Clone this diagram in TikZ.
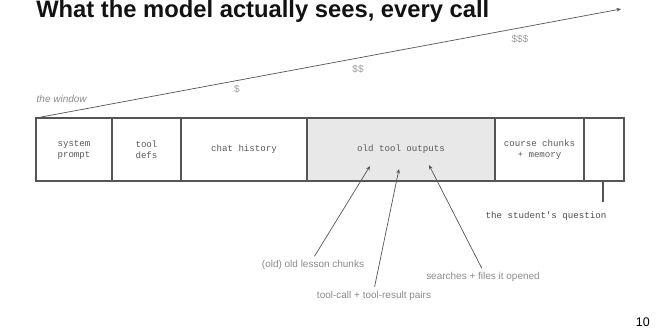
\documentclass[tikz,border=0pt]{standalone}
\usepackage{fontspec}
\setmainfont{Liberation Sans}
\setmonofont{Liberation Mono}
\usetikzlibrary{arrows.meta, positioning}
\definecolor{linegray}{HTML}{555555}
\definecolor{labelgray}{HTML}{8A8A8A}
\definecolor{monogray}{HTML}{5A5A5A}
\definecolor{shade}{HTML}{E8E8E8}

\begin{document}
\begin{tikzpicture}[
    x=0.025cm, y=-0.025cm,
    >=Stealth,
    cell/.style={draw=linegray, line width=0.8pt, rectangle, minimum height=1.575cm, inner sep=0pt, outer sep=0pt, align=center, text=monogray, font=\ttfamily\fontsize{6.5}{7.8}\selectfont, fill=#1},
    cell/.default=white,
    note/.style={text=labelgray, font=\fontsize{7.1}{8.5}\selectfont, inner sep=1pt},
    cost/.style={text=labelgray!85, font=\fontsize{7.1}{8.5}\selectfont, inner sep=1pt},
    ptr/.style={-{Stealth[length=3.2pt, width=2.6pt]}, draw=linegray, line width=0.5pt},
    tick/.style={draw=linegray, line width=0.8pt}
]
\useasboundingbox (0,0) rectangle (660,330);

% Titel
\node[anchor=base west, inner sep=0pt, text=black!93, font=\bfseries\fontsize{16.9}{20}\selectfont] (title) at (36,17) {What the model actually sees, every call};

% Kontextfenster
\node[cell, minimum width=1.9cm] (sys) at (74,149.5) {system\\prompt};
\node[cell, minimum width=1.725cm] (defs) at (146.5,149.5) {tool\\defs};
\node[cell, minimum width=3.15cm] (chat) at (244,149.5) {chat history};
\node[cell=shade, minimum width=4.7cm] (old) at (401,149.5) {old tool outputs};
\node[cell, minimum width=2.225cm] (course) at (539.5,149.5) {course chunks\\+ memory};
\node[cell, minimum width=1cm] (ask) at (604,149.5) {};

% Kosten-Pfeil
\node[note, anchor=west, font=\itshape\fontsize{7.1}{8.5}\selectfont] (window) at (35,99) {the window};
\coordinate (tip) at (621,9);
\draw[ptr] (sys.north west) -- (tip);
\node[cost] (c1) at (237,89) {\$};
\node[cost] (c2) at (358,69) {\$\$};
\node[cost] (c3) at (520,39) {\$\$\$};

% Beschriftungen unten
\node[note] (lesson) at (313,265) {(old) old lesson chunks};
\node[note] (pairs) at (374,296) {tool-call + tool-result pairs};
\node[note] (search) at (483,277) {searches + files it opened};
\coordinate (p1) at (370,166);
\coordinate (p2) at (399,169);
\coordinate (p3) at (429,165);
\draw[ptr, shorten <=2pt] (lesson.north) -- (p1);
\draw[ptr, shorten <=2pt] (pairs.north) -- (p2);
\draw[ptr, shorten <=2pt] (search.north) -- (p3);

% Frage des Studenten
\coordinate (qend) at (603,202);
\draw[tick] (ask.south -| qend) -- (qend);
\node[text=black!70, font=\ttfamily\fontsize{6.5}{7.8}\selectfont, inner sep=1pt] (student) at (546,216) {the student's question};

% Seitenzahl
\node[anchor=base east, inner sep=0pt, font=\fontsize{8.9}{10}\selectfont] (page) at (650,326) {10};
\end{tikzpicture}
\end{document}
